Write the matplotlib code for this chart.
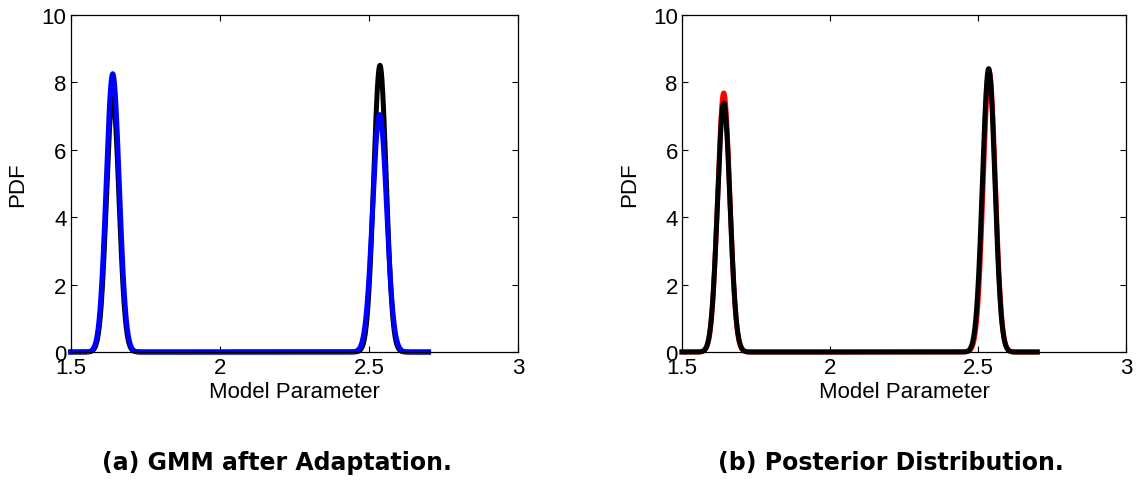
import numpy as np
import matplotlib
matplotlib.use("Agg")
import matplotlib.pyplot as plt

plt.rcParams['font.family'] = ['Liberation Sans', 'DejaVu Sans']

# x-range covered by the curves
x_min, x_max = 1.5, 2.7

# peak parameters (centre, width, height) for each curve
# (a) GMM after Adaptation
a_black_mu = [1.641, 2.537]
a_black_sd = [0.021, 0.021]
a_black_h = [7.55, 8.5]
a_blue_mu = [1.641, 2.536]
a_blue_sd = [0.022, 0.0235]
a_blue_h = [8.25, 7.04]
# (b) Posterior Distribution
b_red_mu = [1.641, 2.538]
b_red_sd = [0.0205, 0.0205]
b_red_h = [7.68, 8.3]
b_black_mu = [1.641, 2.536]
b_black_sd = [0.021, 0.021]
b_black_h = [7.38, 8.4]

x_ticks = [1.5, 2, 2.5, 3]
x_tick_labels = ['1.5', '2', '2.5', '3']
y_ticks = [0, 2, 4, 6, 8, 10]
captions = ['(a) GMM after Adaptation.', '(b) Posterior Distribution.']

x = np.linspace(x_min, x_max, 1200)


def mixture(mu, sd, h):
    y = np.zeros_like(x)
    for m, s, hh in zip(mu, sd, h):
        y += hh * np.exp(-0.5 * ((x - m) / s) ** 2)
    return y


fig = plt.figure(figsize=(11.38, 4.89), dpi=100)
ax1 = fig.add_axes([0.0621, 0.2781, 0.3931, 0.6898])
ax2 = fig.add_axes([0.5993, 0.2781, 0.3902, 0.6898])

lw = 3.6
ax1.plot(x, mixture(a_black_mu, a_black_sd, a_black_h), color='black', lw=lw, clip_on=False)
ax1.plot(x, mixture(a_blue_mu, a_blue_sd, a_blue_h), color='blue', lw=lw, clip_on=False)
ax2.plot(x, mixture(b_red_mu, b_red_sd, b_red_h), color='red', lw=lw, clip_on=False)
ax2.plot(x, mixture(b_black_mu, b_black_sd, b_black_h), color='black', lw=lw, clip_on=False)

for ax, cap, cx in zip([ax1, ax2], captions, [0.2434, 0.783]):
    ax.set_xlim(1.5, 3)
    ax.set_ylim(0, 10)
    ax.set_xticks(x_ticks)
    ax.set_xticklabels(x_tick_labels)
    ax.set_yticks(y_ticks)
    ax.tick_params(direction='in', length=4, width=0.8, labelsize=16,
                   top=True, right=True, colors='black')
    ax.tick_params(axis='x', pad=3.5)
    ax.tick_params(axis='y', pad=3)
    for sp in ax.spines.values():
        sp.set_linewidth(0.9)
    ax.set_xlabel('Model Parameter', fontsize=16, va='top')
    ax.xaxis.set_label_coords(0.5, -0.085)
    ax.set_ylabel('PDF', fontsize=16)
    ax.yaxis.set_label_coords(-0.095, 0.5)
    fig.text(cx, 0.0389, cap, fontsize=17, fontweight='bold', ha='center',
             va='baseline', family='DejaVu Sans')

fig.savefig('out.png', dpi=100)
